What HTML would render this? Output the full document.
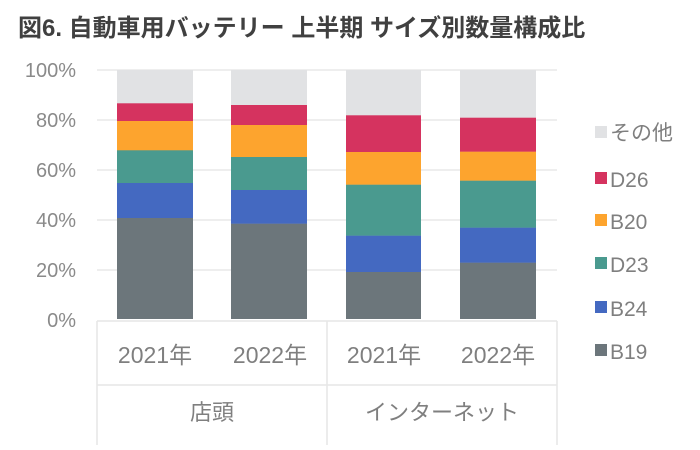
<!DOCTYPE html>
<html><head><meta charset="utf-8"><style>
body{margin:0;width:700px;height:445px;background:#fff;overflow:hidden;font-family:"Liberation Sans","Noto Sans CJK JP",sans-serif}
</style></head><body>
<svg width="700" height="445" xmlns="http://www.w3.org/2000/svg" font-family="Liberation Sans, Noto Sans CJK JP, sans-serif">
<text x="18" y="36" font-size="24" font-weight="bold" fill="#404040">図6. 自動車用バッテリー 上半期 サイズ別数量構成比</text>
<g stroke="#e8e8e8" stroke-width="1.5">
<line x1="97" y1="70" x2="557" y2="70"/><line x1="97" y1="120" x2="557" y2="120"/><line x1="97" y1="170" x2="557" y2="170"/><line x1="97" y1="220" x2="557" y2="220"/><line x1="97" y1="270" x2="557" y2="270"/>
</g>
<g font-size="20" fill="#8a8a8a" text-anchor="end">
<text x="76" y="77">100%</text><text x="76" y="127">80%</text><text x="76" y="177">60%</text><text x="76" y="227">40%</text><text x="76" y="277">20%</text><text x="76" y="327">0%</text>
</g>
<g>
<rect x="117" y="70" width="76" height="34" fill="#e1e2e4"/>
<rect x="117" y="103.3" width="76" height="18" fill="#d5335f"/>
<rect x="117" y="121" width="76" height="29.5" fill="#fda42e"/>
<rect x="117" y="150.3" width="76" height="33" fill="#4a9a8f"/>
<rect x="117" y="183" width="76" height="35.2" fill="#4469c1"/>
<rect x="117" y="218" width="76" height="101" fill="#6c767b"/>

<rect x="231" y="70" width="76" height="35.2" fill="#e1e2e4"/>
<rect x="231" y="105" width="76" height="20.2" fill="#d5335f"/>
<rect x="231" y="125" width="76" height="32.2" fill="#fda42e"/>
<rect x="231" y="157" width="76" height="33.2" fill="#4a9a8f"/>
<rect x="231" y="190" width="76" height="33.9" fill="#4469c1"/>
<rect x="231" y="223.7" width="76" height="95.3" fill="#6c767b"/>

<rect x="346" y="70" width="75" height="45.5" fill="#e1e2e4"/>
<rect x="346" y="115.3" width="75" height="36.9" fill="#d5335f"/>
<rect x="346" y="152" width="75" height="32.9" fill="#fda42e"/>
<rect x="346" y="184.7" width="75" height="51.2" fill="#4a9a8f"/>
<rect x="346" y="235.7" width="75" height="36.5" fill="#4469c1"/>
<rect x="346" y="272" width="75" height="47" fill="#6c767b"/>

<rect x="460" y="70" width="76" height="47.9" fill="#e1e2e4"/>
<rect x="460" y="117.7" width="76" height="34.2" fill="#d5335f"/>
<rect x="460" y="151.7" width="76" height="29.2" fill="#fda42e"/>
<rect x="460" y="180.7" width="76" height="47.2" fill="#4a9a8f"/>
<rect x="460" y="227.7" width="76" height="35.2" fill="#4469c1"/>
<rect x="460" y="262.7" width="76" height="56.3" fill="#6c767b"/>
</g>
<g stroke="#e6e6e6" stroke-width="1.5">
<line x1="97" y1="321" x2="557" y2="321"/>
<line x1="97" y1="385" x2="557" y2="385"/>
<line x1="97" y1="321" x2="97" y2="445"/>
<line x1="327" y1="321" x2="327" y2="445"/>
<line x1="557" y1="321" x2="557" y2="445"/>
</g>
<g font-size="23" fill="#7f7f7f" text-anchor="middle">
<text x="155" y="363">2021年</text><text x="270" y="363">2022年</text><text x="384" y="363">2021年</text><text x="498" y="363">2022年</text>
</g>
<g font-size="22" fill="#7f7f7f" text-anchor="middle">
<text x="212" y="420">店頭</text><text x="442" y="420">インターネット</text>
</g>
<g font-size="21" fill="#7f7f7f">
<rect x="595" y="126" width="12" height="12" fill="#e1e2e4"/><text x="610" y="140">その他</text>
<rect x="595" y="172" width="12" height="12" fill="#d5335f"/><text x="610" y="187">D26</text>
<rect x="595" y="214" width="12" height="12" fill="#fda42e"/><text x="610" y="229">B20</text>
<rect x="595" y="257" width="12" height="12" fill="#4a9a8f"/><text x="610" y="272">D23</text>
<rect x="595" y="301" width="12" height="12" fill="#4469c1"/><text x="610" y="316">B24</text>
<rect x="595" y="344" width="12" height="12" fill="#6c767b"/><text x="610" y="359">B19</text>
</g>
</svg>
</body></html>
